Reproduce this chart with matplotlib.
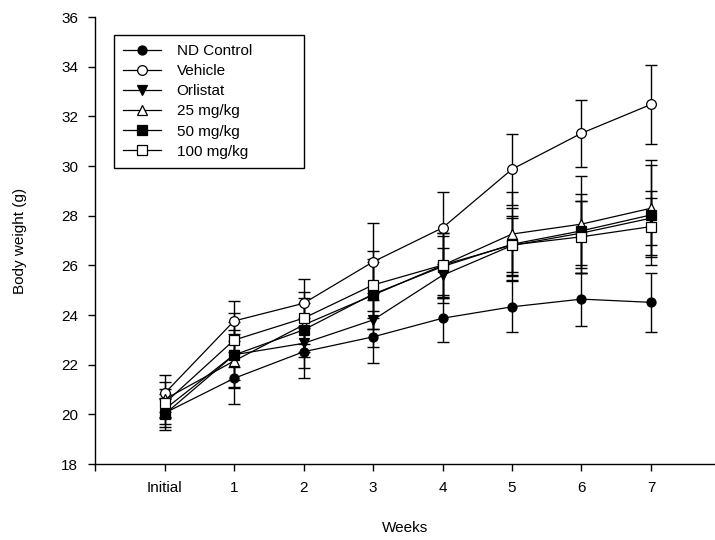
import matplotlib
matplotlib.use('Agg')
import matplotlib.pyplot as plt

plt.rcParams['font.family'] = ['Liberation Sans', 'DejaVu Sans']

weeks = [0, 1, 2, 3, 4, 5, 6, 7]
tick_pos = [-1, 0, 1, 2, 3, 4, 5, 6, 7]
tick_labels = ['', 'Initial', '1', '2', '3', '4', '5', '6', '7']

label_list = ['ND Control', 'Vehicle', 'Orlistat', '25 mg/kg', '50 mg/kg', '100 mg/kg']

nd_mean = [20.05, 21.45, 22.52, 23.12, 23.87, 24.33, 24.64, 24.51]
nd_err = [0.55, 1.05, 1.05, 1.05, 0.95, 1.03, 1.07, 1.2]

veh_mean = [20.84, 23.76, 24.47, 26.14, 27.51, 29.87, 31.32, 32.48]
veh_err = [0.75, 0.8, 0.98, 1.55, 1.45, 1.42, 1.35, 1.6]

orl_mean = [20.2, 22.4, 22.86, 23.8, 25.6, 26.8, 27.3, 27.9]
orl_err = [0.6, 1.3, 1.0, 1.1, 1.1, 1.2, 1.3, 1.1]

mg25_mean = [20.6, 22.15, 23.6, 24.8, 26.0, 27.26, 27.66, 28.3]
mg25_err = [0.7, 1.1, 1.1, 1.35, 1.3, 1.7, 1.95, 1.95]

mg50_mean = [20.0, 22.39, 23.4, 24.84, 25.95, 26.85, 27.39, 28.03]
mg50_err = [0.65, 1.0, 1.1, 1.4, 1.25, 1.45, 1.5, 2.0]

mg100_mean = [20.44, 22.99, 23.87, 25.21, 26.01, 26.82, 27.15, 27.56]
mg100_err = [0.6, 1.1, 1.05, 1.35, 1.3, 1.1, 1.45, 1.15]

means = [nd_mean, veh_mean, orl_mean, mg25_mean, mg50_mean, mg100_mean]
errs = [nd_err, veh_err, orl_err, mg25_err, mg50_err, mg100_err]
markers = ['o', 'o', 'v', '^', 's', 's']
faces = ['black', 'white', 'black', 'white', 'black', 'white']
msizes = [6.5, 7, 7, 7, 6.5, 7]

fig = plt.figure(figsize=(7.15, 5.4), dpi=100)
ax = fig.add_axes([0.1329, 0.1407, 0.867, 0.8278])

# error bars first, then the lines with markers on top
for i in range(len(means)):
  ax.errorbar(weeks, means[i], yerr=errs[i], fmt='none', ecolor='black',
              elinewidth=1.0, capsize=4.5, capthick=1.0)

for i in range(len(means)):
  ax.plot(weeks, means[i], marker=markers[i], markersize=msizes[i],
          markerfacecolor=faces[i], markeredgecolor='black', markeredgewidth=0.9,
          color='black', linewidth=0.9, label=label_list[i])

ax.set_xlim(-1, 7.92)
ax.set_ylim(18, 36)
ax.set_yticks([18, 20, 22, 24, 26, 28, 30, 32, 34, 36])
ax.set_xticks(tick_pos)
ax.set_xticklabels(tick_labels)
ax.tick_params(direction='out', length=5, width=1, labelsize=11, colors='black')
ax.tick_params(axis='x', pad=7)
ax.tick_params(axis='y', pad=7)
ax.spines['top'].set_visible(False)
ax.spines['right'].set_visible(False)
ax.spines['left'].set_linewidth(1)
ax.spines['bottom'].set_linewidth(1)

ax.set_xlabel('Weeks', fontsize=11, labelpad=19)
ax.set_ylabel('Body weight (g)', fontsize=11, labelpad=25)

# wide box with empty space on the right, like the original
leg = ax.legend(loc='upper left', bbox_to_anchor=(0.0306, 0.96, 0.306, 0), mode='expand',
                borderaxespad=0, fontsize=11, frameon=True, fancybox=False,
                edgecolor='black', handlelength=2.5, labelspacing=0.4, borderpad=0.6,
                handletextpad=1.0, framealpha=1)
leg.get_frame().set_linewidth(1)

fig.savefig('out.png', dpi=100)
